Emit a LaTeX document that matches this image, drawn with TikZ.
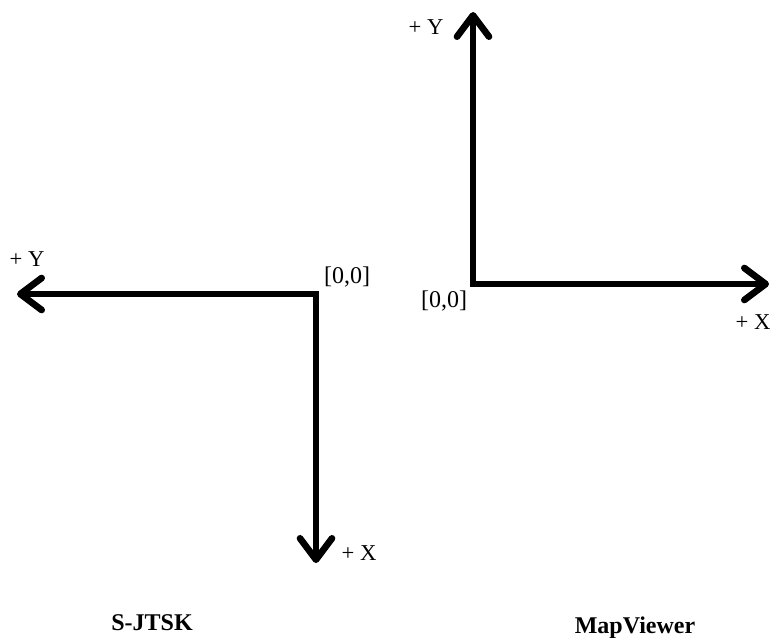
\documentclass[tikz,border=0pt]{standalone}
\usepackage{fontspec}
\setmainfont{Liberation Serif}
\usetikzlibrary{arrows.meta}
\begin{document}
\begin{tikzpicture}[x=0.75pt,y=-0.75pt,
  axis/.style={line width=3.8pt, line join=miter,
    arrows={Straight Barb[length=16pt,width=24pt,line width=5pt,line cap=round,line join=round]-Straight Barb[length=16pt,width=24pt,line width=5pt,line cap=round,line join=round]}},
  lbl/.style={inner sep=0pt, font=\fontsize{17}{19}\selectfont},
  orig/.style={inner sep=0pt, font=\fontsize{18}{20}\selectfont},
  title/.style={inner sep=0pt, font=\fontsize{18}{20}\selectfont\bfseries}]
\useasboundingbox (0,0) rectangle (774,638);
% left system (S-JTSK)
\coordinate (lo) at (316,294);
\coordinate (ly) at (17,294);
\coordinate (lx) at (316,563);
\draw[axis] (ly) -- (lo) -- (lx);
\node[lbl] (lyl) at (27,259) {+ Y};
\node[orig] (lol) at (347,277) {[0,0]};
\node[lbl] (lxl) at (359,553) {+ X};
\node[title] (lt) at (152,623) {S-JTSK};
% right system (MapViewer)
\coordinate (ro) at (473,284);
\coordinate (ry) at (473,12);
\coordinate (rx) at (769,284);
\draw[axis] (ry) -- (ro) -- (rx);
\node[lbl] (ryl) at (426,27) {+ Y};
\node[orig] (rol) at (444,301) {[0,0]};
\node[lbl] (rxl) at (753,322) {+ X};
\node[title] (rt) at (635,628) {MapViewer};
\end{tikzpicture}
\end{document}
